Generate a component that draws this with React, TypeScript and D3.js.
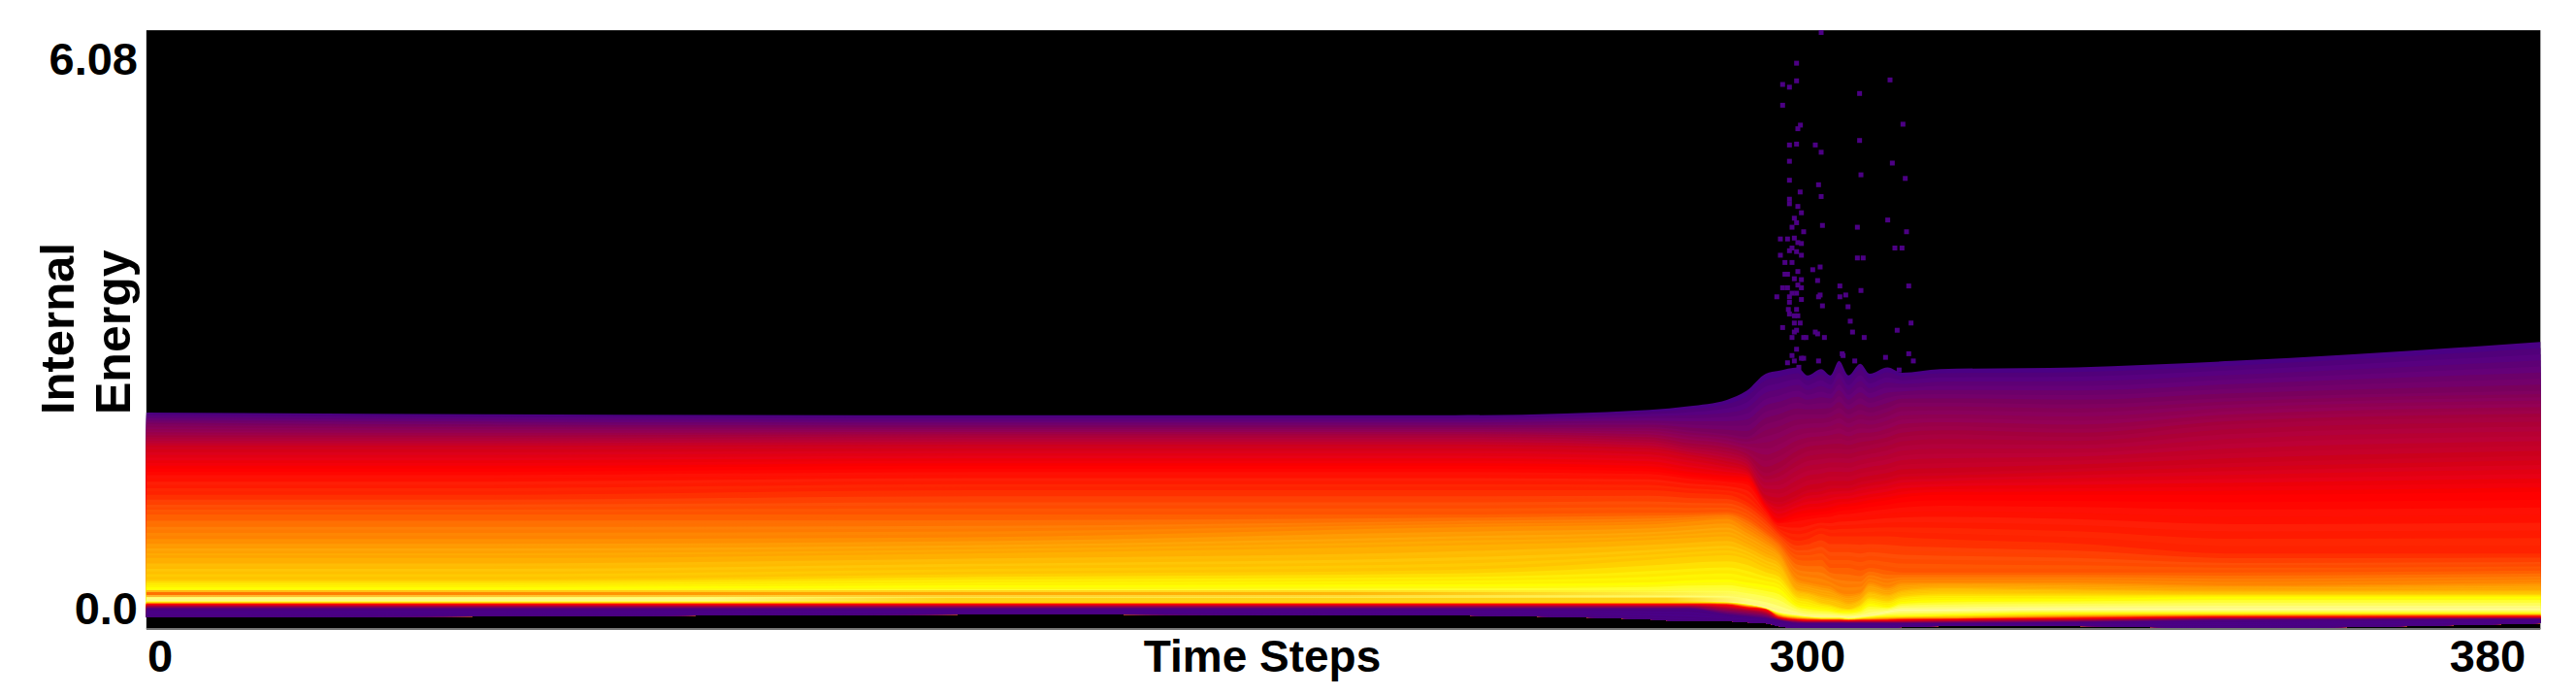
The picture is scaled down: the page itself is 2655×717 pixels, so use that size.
import React from "react";
import * as d3 from "d3";

// Time steps at which the energy contours were read
const knotTimes = [-2.5, 59.2, 147.5, 235.9, 271.2, 278.3, 285.3, 288.9, 292.4, 294.7, 298.2, 300, 301.6, 302.7, 303.7, 304.8, 306.2, 307.3, 309.4, 311.1, 315.6, 331.6, 349.9, 386.2];

// Iso-colour contours of the internal energy distribution, from the top of the band to the bottom
const contourA = [2.16,2.14,2.13,2.13,2.19,2.23,2.30,2.40,2.59,2.62,2.66,2.57,2.64,2.57,2.73,2.57,2.70,2.59,2.66,2.60,2.64,2.66,2.73,2.94];
const contourB = [2.03,2.01,2.00,2.00,2.00,1.96,1.92,1.89,2.03,2.07,2.14,2.14,2.14,2.16,2.21,2.14,2.19,2.16,2.21,2.27,2.27,2.25,2.32,2.40];
const contourC = [1.89,1.89,1.91,1.91,1.87,1.80,1.75,1.68,1.49,1.54,1.68,1.73,1.75,1.76,1.76,1.75,1.78,1.80,1.84,1.89,1.92,1.89,2.03,2.11];
const contourD = [1.78,1.78,1.79,1.79,1.75,1.68,1.60,1.54,1.21,1.17,1.25,1.30,1.32,1.35,1.35,1.35,1.39,1.41,1.44,1.48,1.49,1.54,1.60,1.68];
const contourE = [1.54,1.54,1.57,1.57,1.54,1.48,1.44,1.43,1.11,0.96,1.03,1.05,1.06,1.08,1.11,1.12,1.14,1.16,1.19,1.22,1.25,1.25,1.25,1.28];
const contourF = [1.25,1.25,1.30,1.30,1.30,1.27,1.25,1.17,1.00,0.85,0.74,0.76,0.82,0.79,0.79,0.79,0.79,0.79,0.79,0.78,0.76,0.71,0.60,0.60];
const contourG = [1.03,1.03,1.03,1.03,1.05,1.05,1.06,1.00,0.85,0.74,0.53,0.52,0.53,0.44,0.44,0.44,0.41,0.44,0.41,0.39,0.39,0.39,0.39,0.41];
const contourH = [.76,.76,.78,.89,.92,.95,.98,.87,.74,.63,.31,.28,.25,.23,.17,.15,.17,.28,.23,.28,.28,.28,.25,.28];
const contourI = [.55,.55,.60,.69,.75,.77,.79,.71,.60,.53,.20,.18,.14,.12,.10,.06,.10,.19,.15,.20,.23,.21,.19,.20];
const contourJ = [.31,.31,.37,.42,.53,.56,.58,.54,.44,.39,.14,.12,.06,.04,.01,-.01,.04,.12,.09,.14,.17,.16,.15,.15];
const contourK = [.226,.226,.247,.258,.279,.301,.312,.279,.247,.215,.032,.011,-.011,-.021,-.043,-.043,-.021,.043,.011,.064,.086,.097,.118,.118];
const contourN = [.075,.075,.075,.075,.075,.075,.064,.043,0,-.043,-.075,-.097,-.097,-.097,-.097,-.107,-.097,-.086,-.043,-.021,-.021,-.011,-.011,-.011];
const contourO = [.064,.064,.064,.064,.064,.064,.054,.032,-.011,-.064,-.097,-.107,-.118,-.118,-.118,-.129,-.118,-.107,-.097,-.097,-.086,-.064,-.064,-.064];
const contourP = [.048,.048,.048,.048,.048,.048,.043,.016,-.016,-.086,-.118,-.124,-.129,-.129,-.129,-.134,-.129,-.129,-.124,-.118,-.118,-.097,-.086,-.081];
const contourQ = [.038,.038,.038,.038,.038,.038,.032,0,-.021,-.107,-.134,-.140,-.140,-.140,-.140,-.145,-.140,-.140,-.140,-.134,-.129,-.118,-.102,-.097];
const contourR = [.016,.016,.016,.016,.016,.016,-.011,-.032,-.064,-.124,-.150,-.156,-.156,-.156,-.156,-.156,-.156,-.156,-.156,-.156,-.150,-.140,-.118,-.113];
const contourS = [-.011,-.011,-.011,-.011,-.011,-.011,-.075,-.097,-.118,-.140,-.172,-.172,-.172,-.172,-.172,-.172,-.172,-.172,-.172,-.172,-.172,-.161,-.140,-.129];
const contourT = [-.107,-.097,-.075,-.086,-.129,-.150,-.150,-.161,-.172,-.204,-.226,-.226,-.226,-.226,-.226,-.226,-.226,-.226,-.226,-.215,-.204,-.204,-.226,-.172];

const contours = [contourA, contourB, contourC, contourD, contourE, contourF, contourG, contourH, contourI, contourJ, contourK, contourN, contourO, contourP, contourQ, contourR, contourS, contourT];
const contourColours = ["#4a0084", "#800060", "#a80040", "#d00020", "#ff0000", "#ff3000", "#ff6000", "#ff9000", "#ffb000", "#ffd000", "#ffff00", "#ffffa0", "#ffff00", "#ff8000", "#ff0000", "#a00040", "#4a0084", "#4a0084"];

// Thin streaks below the main yellow band before the transition: [time from, time to], [energy top, energy bottom]
const streakTimes = [-2.5, 289];
const orangeStreakOuter = [0.193, 0.118];
const orangeStreakInner = [0.172, 0.140];
const amberStreak = [0.113, 0.059];

// Isolated outliers after the transition
const dotTimes = [301.6,298,295.46,296.7,298,309.7,306.12,295.46,311.22,298.7,298.23,296.7,298,300.91,306.12,301.6,296.7,309.97,296.7,306.28,311.49,301.29,298.65,301.6,296.7,296.7,298.23,298.88,297.59,298,297.17,301.75,305.86,309.43,299.29,311.64,295.05,296.35,297.59,298.88,298.23,297.17,296.7,298,295.05,298.88,310.27,311.11,305.86,306.54,295.88,297.17,301.48,300.61,298.23,295.88,296.35,297.59,298.88,301.18,303.8,311.9,295.46,296.35,298.88,298.23,297.17,298,296.7,294.4,306.28,301.48,301.29,303.8,304.49,298.88,296.7,304.76,301.75,296.5,298,296.7,297.59,298.23,305.02,312.17,297.59,298.65,295.46,298,297.59,300.91,301.18,310.54,305.29,297.17,299.29,299.71,301.98,306.66,298,297.17,311.9,304.07,304.18,298.88,299.29,309.17,297.59,296.35,301.29,305.55,312.44,298.41,310.77];
const dotEnergies = [6.365,6.025,5.79,5.76,5.83,5.84,5.69,5.56,5.35,5.34,5.30,5.12,5.13,5.12,5.17,5.04,4.94,4.92,4.73,4.79,4.75,4.68,4.60,4.55,4.52,4.47,4.44,4.37,4.31,4.26,4.21,4.23,4.21,4.29,4.16,4.16,4.08,4.08,4.09,4.03,4.04,3.98,3.95,3.94,3.90,3.90,3.98,3.98,3.87,3.87,3.82,3.82,3.77,3.74,3.72,3.69,3.69,3.64,3.63,3.62,3.56,3.56,3.54,3.54,3.54,3.57,3.48,3.48,3.44,3.44,3.51,3.46,3.44,3.44,3.46,3.41,3.38,3.33,3.34,3.30,3.30,3.25,3.23,3.23,3.17,3.15,3.15,3.15,3.10,3.07,3.05,3.05,3.03,3.07,3.05,2.99,2.99,2.99,2.99,2.99,2.86,2.79,2.81,2.81,2.79,2.76,2.76,2.77,2.73,2.71,2.73,2.73,2.73,2.66,2.63];

const xTicks = [0, 300, 380];
const yTicks = [0, 6.08];
const yTickLabels = ["0.0", "6.08"];
const streaks = [0, -6, 4, -2, 6, -4, 2, -8];

const W = 2655, H = 717;
const x = d3.scaleLinear().domain([0, 300, 380]).range([165, 1863, 2564]);
const y = d3.scaleLinear().domain([0, 6.08]).range([626, 60]);
const plotLeft = x(-2.5), plotRight = x(386.2);
const plotTop = y(6.39), plotBottom = y(-0.236);
const FONT = "'Liberation Sans', Arial, sans-serif";

const subdivisions = 8;

function buildBands() {
  const last = contours[contours.length - 1];
  const area = d3
    .area<number>()
    .x((_, i) => x(knotTimes[i]))
    .y0((_, i) => y(last[i]))
    .y1((d) => y(d))
    .curve(d3.curveMonotoneX);
  const bands: { d: string; fill: string }[] = [];
  for (let c = 0; c < contours.length - 1; c++) {
    const mix = d3.interpolateRgb(contourColours[c], contourColours[c + 1]);
    for (let s = 0; s < subdivisions; s++) {
      const f = s / subdivisions;
      const line = contours[c].map((v, i) => v + (contours[c + 1][i] - v) * f);
      const col = d3.rgb(mix(f));
      const k = streaks[(c * subdivisions + s) % streaks.length];
      col.g = Math.max(0, Math.min(255, col.g + k * (col.g > 10 ? 1 : 0)));
      col.b = Math.max(0, Math.min(255, col.b + k));
      bands.push({ d: area(line) as string, fill: col.formatHex() });
    }
  }
  return bands;
}

function streakRect(levels: number[], fill: string, opacity = 1) {
  const [t0, t1] = streakTimes;
  return (
    <rect
      x={x(t0)}
      width={x(t1) - x(t0)}
      y={y(levels[0])}
      height={y(levels[1]) - y(levels[0])}
      fill={fill}
      opacity={opacity}
    />
  );
}

export default function App() {
  const bands = buildBands();
  const [s0, s1] = streakTimes;
  return (
    <svg width={W} height={H} viewBox={`0 0 ${W} ${H}`} style={{ position: "absolute", left: 0, top: 0, display: "block" }}>
      <defs>
        <linearGradient id="orangeFade" gradientUnits="userSpaceOnUse" x1={x(s0)} x2={x(s1)} y1={0} y2={0}>
          <stop offset="0" stopColor="#ff7000" />
          <stop offset="0.4" stopColor="#ffa000" stopOpacity={0.95} />
          <stop offset="0.75" stopColor="#ffb000" stopOpacity={0.85} />
          <stop offset="1" stopColor="#ffc800" stopOpacity={0} />
        </linearGradient>
        <linearGradient id="amberFade" gradientUnits="userSpaceOnUse" x1={x(s0)} x2={x(s1)} y1={0} y2={0}>
          <stop offset="0" stopColor="#ffd000" stopOpacity={0} />
          <stop offset="0.35" stopColor="#ffd000" stopOpacity={0} />
          <stop offset="0.5" stopColor="#ffcc00" stopOpacity={0.85} />
          <stop offset="0.95" stopColor="#ffcc00" stopOpacity={0.85} />
          <stop offset="1" stopColor="#ffd000" stopOpacity={0} />
        </linearGradient>
      </defs>
      <rect width={W} height={H} fill="#fff" />
      <rect x={plotLeft} y={plotTop} width={plotRight - plotLeft} height={plotBottom - plotTop} fill="#000" />
      <g>
        {bands.map((b, i) => (
          <path key={i} d={b.d} fill={b.fill} />
        ))}
      </g>
      {streakRect(orangeStreakOuter, "url(#orangeFade)", 0.5)}
      {streakRect(orangeStreakInner, "url(#orangeFade)")}
      {streakRect(amberStreak, "url(#amberFade)")}
      <g fill="#4c0084">
        {dotTimes.map((t, i) => (
          <rect key={i} x={x(t) - 2.5} y={y(dotEnergies[i]) - 2.5} width={5} height={5} />
        ))}
      </g>
      <line x1={plotLeft} x2={plotRight} y1={plotBottom} y2={plotBottom} stroke="#777" strokeWidth={2} />
      <g fontFamily={FONT} fontSize={47} fontWeight="bold" fill="#000">
        {yTicks.map((t, i) => (
          <text key={t} x={142} y={y(t) + 17} textAnchor="end">
            {yTickLabels[i]}
          </text>
        ))}
        {xTicks.map((t) => (
          <text key={t} x={x(t)} y={692} textAnchor="middle">
            {t}
          </text>
        ))}
        <text x={1301} y={692} fontSize={46} textAnchor="middle">
          Time Steps
        </text>
        <text transform="translate(76,427) rotate(-90)" fontSize={49}>
          Internal
        </text>
        <text transform="translate(134,427) rotate(-90)" fontSize={50}>
          Energy
        </text>
      </g>
    </svg>
  );
}
